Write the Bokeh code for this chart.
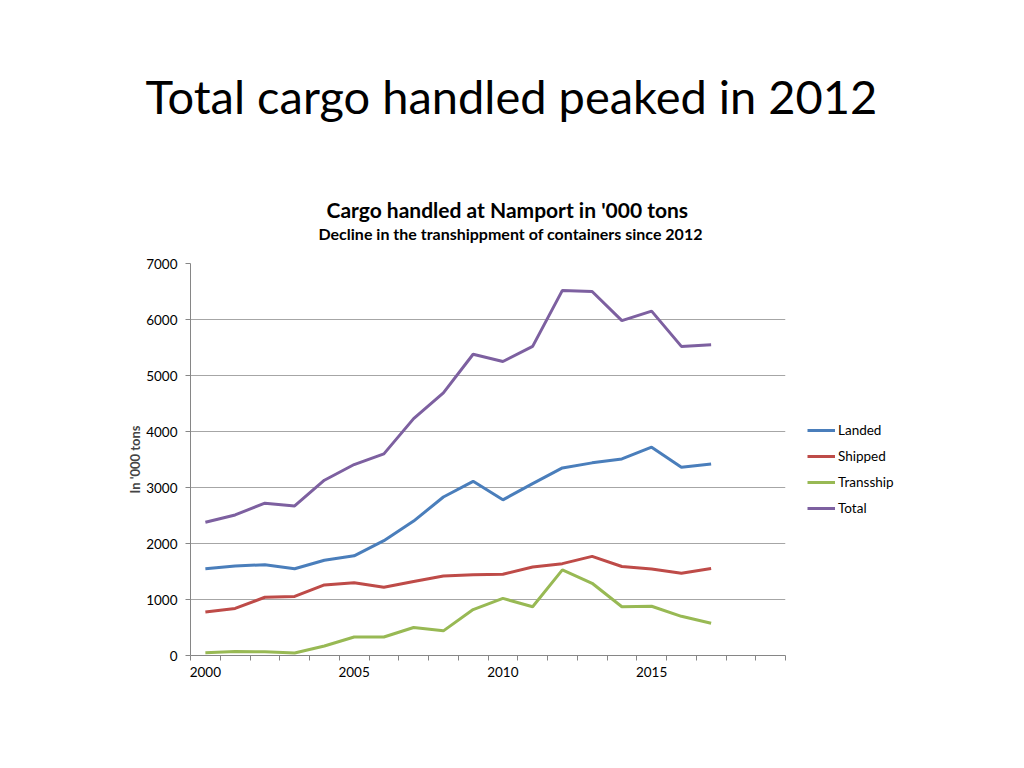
from bokeh.plotting import figure
from bokeh.models import Range1d, FixedTicker, Title, Legend, LegendItem
from bokeh.embed import file_html
from bokeh.resources import INLINE

years = list(range(2000, 2018))
landed = [1550, 1600, 1620, 1550, 1700, 1780, 2050, 2400, 2830, 3110, 2780, 3070, 3350, 3440, 3510, 3720, 3360, 3420]
shipped = [775, 840, 1040, 1055, 1260, 1300, 1220, 1320, 1420, 1440, 1450, 1580, 1640, 1770, 1590, 1545, 1470, 1555]
tranship = [50, 70, 65, 45, 170, 330, 330, 500, 440, 820, 1020, 870, 1530, 1290, 870, 880, 700, 575]
total = [2380, 2510, 2720, 2670, 3130, 3410, 3600, 4230, 4690, 5380, 5250, 5520, 6520, 6500, 5980, 6150, 5520, 5550]

series_names = ["Landed", "Shipped", "Transship", "Total"]
series_values = [landed, shipped, tranship, total]
series_colors = ["#4A7EBB", "#BE4B48", "#98B954", "#7D60A0"]

x_labels = [2000, 2005, 2010, 2015]
x_bounds = [y - 0.5 for y in range(2000, 2021)]
y_ticks = [0, 1000, 2000, 3000, 4000, 5000, 6000, 7000]

FONT = "Lato"

p = figure(frame_width=595, frame_height=392, output_backend="svg", toolbar_location=None,
           x_range=Range1d(1999.5, 2019.5), y_range=Range1d(0, 7000),
           min_border_left=190, min_border_right=200, min_border_top=263,
           min_border_bottom=97)
p.outline_line_color = None
p.background_fill_color = "white"

items = []
for name, vals, col in zip(series_names, series_values, series_colors):
    r = p.line(years, vals, line_color=col, line_width=3)
    items.append(LegendItem(label=name, renderers=[r]))

# axes
p.xaxis.ticker = FixedTicker(ticks=x_labels, minor_ticks=x_bounds)
p.xaxis.major_tick_line_color = None
p.xaxis.minor_tick_line_color = "#868686"
p.xaxis.minor_tick_in = 0
p.xaxis.minor_tick_out = 5
p.xaxis.axis_line_color = "#868686"
p.xaxis.major_label_standoff = 5
p.xaxis.major_label_text_font = FONT
p.xaxis.major_label_text_font_size = "13.5px"
p.xaxis.major_label_text_color = "#000000"

p.yaxis.ticker = FixedTicker(ticks=y_ticks)
p.yaxis.minor_tick_line_color = None
p.yaxis.major_tick_line_color = "#868686"
p.yaxis.major_tick_in = 0
p.yaxis.major_tick_out = 5
p.yaxis.axis_line_color = "#868686"
p.yaxis.major_label_standoff = 8
p.yaxis.major_label_text_font = FONT
p.yaxis.major_label_text_font_size = "13.5px"
p.yaxis.major_label_text_color = "#000000"
p.yaxis.axis_label = "In '000 tons"
p.yaxis.axis_label_text_font = FONT
p.yaxis.axis_label_text_font_style = "bold"
p.yaxis.axis_label_text_font_size = "13px"
p.yaxis.axis_label_standoff = 0

p.xgrid.visible = False
p.ygrid.ticker = FixedTicker(ticks=y_ticks)
p.ygrid.grid_line_color = "#A6A6A6"
p.ygrid.grid_line_width = 1

# legend in right panel
lg = Legend(items=items, location=(22, 134), orientation="vertical",
            glyph_width=28, glyph_height=26, label_height=26, label_standoff=3,
            spacing=0, padding=0, margin=0, border_line_color=None,
            background_fill_alpha=0, label_text_font=FONT,
            label_text_font_size="13.5px", label_text_color="#000000")
p.add_layout(lg, "right")

# titles, stacked from the plot frame upwards; blank titles act as spacers
p.add_layout(Title(text=" ", standoff=18, text_font=FONT, text_font_size="1px"), "above")
p.add_layout(Title(text="Decline in the transhippment of containers since 2012",
                   align="left", offset=128, standoff=0, text_font=FONT,
                   text_font_size="16px", text_font_style="bold",
                   text_color="#000000"), "above")
p.add_layout(Title(text="Cargo handled at Namport in '000 tons",
                   align="left", offset=136, standoff=0, text_font=FONT,
                   text_font_size="21px", text_font_style="bold",
                   text_color="#000000"), "above")
p.add_layout(Title(text=" ", standoff=68, text_font=FONT, text_font_size="1px"), "above")
p.add_layout(Title(text="Total cargo handled peaked in 2012",
                   align="left", offset=-45, standoff=0, text_font=FONT,
                   text_font_size="47px", text_font_style="normal",
                   text_color="#000000"), "above")

open("out.html", "w").write(file_html(p, INLINE))
